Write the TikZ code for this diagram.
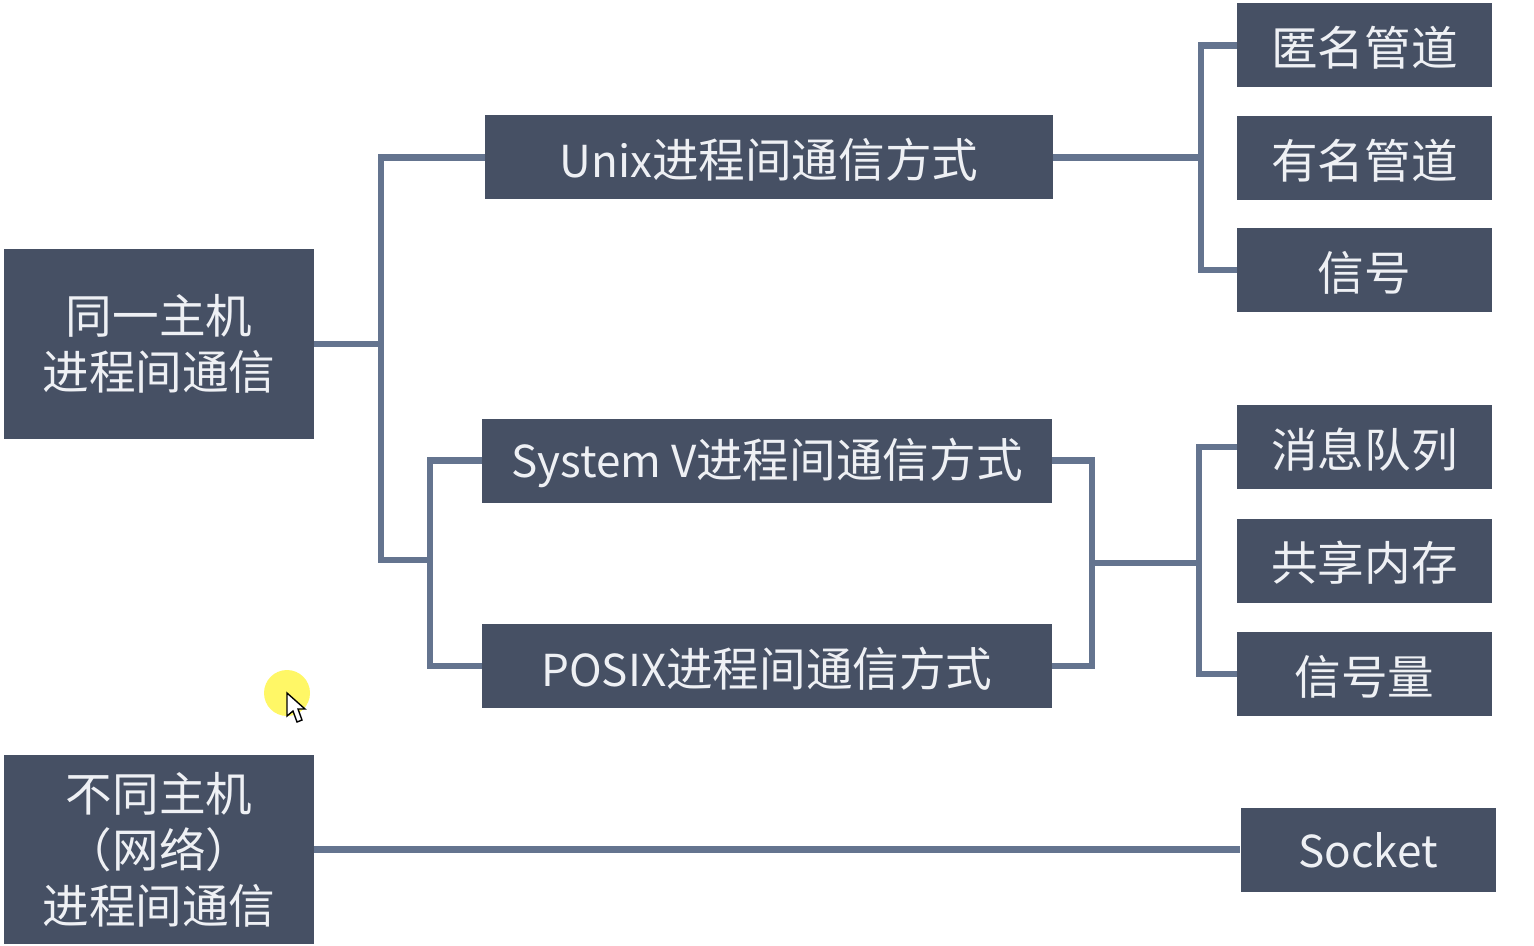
\documentclass[tikz,border=0pt]{standalone}
\usepackage{fontspec}
\setmainfont{Noto Sans CJK SC}
\definecolor{boxfill}{HTML}{465064}
\definecolor{linkcol}{HTML}{64748F}
\definecolor{boxtext}{HTML}{EEF0F4}
\newcommand{\lat}[1]{{\fontsize{22}{28}\selectfont #1}}
\tikzset{
  box/.style={fill=boxfill,text=boxtext,inner sep=0pt,align=center,
    font=\fontsize{23.3}{28}\selectfont,
    execute at begin node={\rule{0pt}{#1}}},
  box/.default=22pt,
  leftbox/.style={box=27pt,minimum width=155pt,minimum height=94.5pt},
  midbox/.style={box,minimum width=285pt,minimum height=42pt},
  rightbox/.style={box,minimum width=127.5pt,minimum height=42pt},
  link/.style={draw=linkcol,line width=3.2pt}
}
\begin{document}
\begin{tikzpicture}[x=0.5pt,y=-0.5pt]
      \useasboundingbox (0,0) rectangle (1534,946);

      % connectors first, the boxes sit on their ends
      \coordinate (a) at (381,344);
      \coordinate (b) at (381,560);
      \coordinate (c) at (430,560);
      \coordinate (d) at (1201,157.5);
      \coordinate (e) at (1092,563);
      \coordinate (f) at (1199,563);

      \node[leftbox] (host) at (159,344) {同一主机\\进程间通信};
      \node[leftbox] (net) at (159,849.5) {不同主机\\（网络）\\进程间通信};

      \node[midbox,minimum width=284pt] (unix) at (769,157.5) {\lat{Unix}进程间通信方式};
      \node[midbox] (sysv) at (767,460.5) {\lat{System V}进程间通信方式};
      \node[midbox] (posix) at (767,666) {\lat{POSIX}进程间通信方式};

      \node[rightbox] (anon) at (1364.5,45.5) {匿名管道};
      \node[rightbox] (named) at (1364.5,158) {有名管道};
      \node[rightbox] (sig) at (1364.5,270) {信号};
      \node[rightbox] (msg) at (1364.5,447) {消息队列};
      \node[rightbox] (shm) at (1364.5,560.5) {共享内存};
      \node[rightbox] (sem) at (1364.5,674) {信号量};
      \node[rightbox] (sock) at (1368,849.5) {\lat{Socket}\rule[-4pt]{0pt}{0pt}};

      \draw[link] (host.east) -- (a);
      \draw[link] (unix.west) -| (b) -- (c);
      \draw[link] (sysv.west) -| (c);
      \draw[link] (posix.west) -| (c);

      \draw[link] (unix.east) -- (d);
      \draw[link] (anon.west) -| (d);
      \draw[link] (sig.west) -| (d);

      \draw[link] (sysv.east) -| (e);
      \draw[link] (posix.east) -| (e);
      \draw[link] (e) -- (f);
      \draw[link] (msg.west) -| (f);
      \draw[link] (sem.west) -| (f);

      \draw[link] (net.east) -- (sock.west);

      % mouse pointer
      \fill[yellow!75!white,opacity=.8] (287,693) circle (23);
      \draw[fill=white,line width=0.7pt] (287,693) -- (287,716) -- (293,711) -- (297,722)
        -- (302,720) -- (298,709) -- (305,709) -- cycle;
    \end{tikzpicture}
\end{document}
